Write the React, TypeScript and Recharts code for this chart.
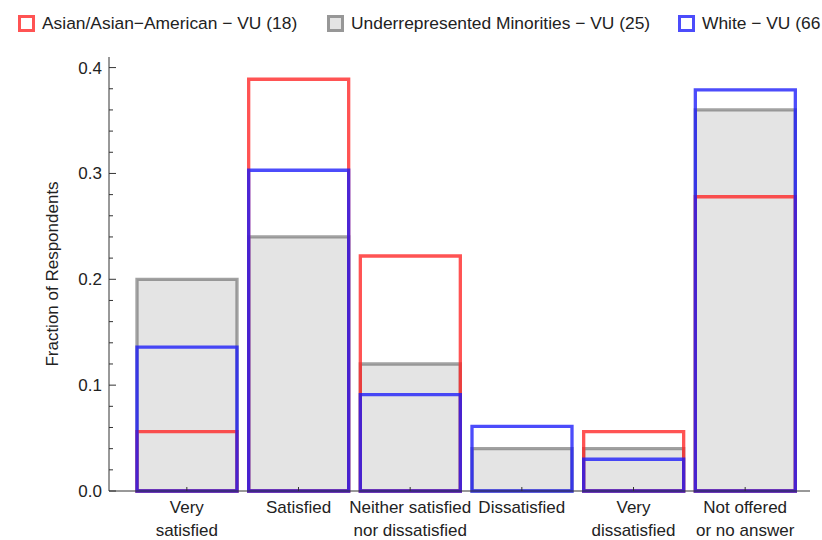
import { BarChart, Bar, XAxis, YAxis } from 'recharts';

const categories = [
  'Very\nsatisfied',
  'Satisfied',
  'Neither satisfied\nnor dissatisfied',
  'Dissatisfied',
  'Very\ndissatisfied',
  'Not offered\nor no answer',
];

// fractions
const asianValues = [0.056, 0.389, 0.222, 0, 0.056, 0.278];
const urmValues = [0.2, 0.24, 0.12, 0.04, 0.04, 0.36];
const whiteValues = [0.136, 0.303, 0.091, 0.061, 0.03, 0.379];

const seriesNames = [
  'Asian/Asian−American − VU (18)',
  'Underrepresented Minorities − VU (25)',
  'White − VU (66',
];

const yTicks = [
  0, 0.02, 0.04, 0.06, 0.08, 0.1, 0.12, 0.14, 0.16, 0.18, 0.2, 0.22, 0.24, 0.26,
  0.28, 0.3, 0.32, 0.34, 0.36, 0.38, 0.4,
];
const yMajorLabels: Record<string, string> = {
  '0': '0.0',
  '0.1': '0.1',
  '0.2': '0.2',
  '0.3': '0.3',
  '0.4': '0.4',
};

const FONT = '"Liberation Sans", Arial, sans-serif';
const RED = 'rgba(255,35,35,0.78)';
const GRAY = 'rgba(100,100,100,0.6)';
const BLUE = 'rgba(25,25,250,0.78)';
const AXIS = '#333';

const data = categories.map((c, i) => ({
  category: c,
  asian: asianValues[i],
  urm: urmValues[i],
  white: whiteValues[i],
}));

function YTick(props: any) {
  const { x, y, payload } = props;
  const label = yMajorLabels[String(payload.value)];
  const len = label ? 7 : 4;
  return (
    <g>
      <line x1={x} x2={x + len} y1={y} y2={y} stroke={AXIS} strokeWidth={1} />
      {label && (
        <text
          x={x - 7}
          y={y + 6}
          textAnchor="end"
          fontSize={17}
          fontFamily={FONT}
          fill="#222"
        >
          {label}
        </text>
      )}
    </g>
  );
}

function XTick(props: any) {
  const { x, y, payload } = props;
  const lines = String(payload.value).split('\n');
  return (
    <g>
      <line x1={x} x2={x} y1={y} y2={y - 4} stroke={AXIS} strokeWidth={1} />
      {lines.map((ln, i) => (
        <text
          key={i}
          x={x}
          y={y + 22 + i * 23}
          textAnchor="middle"
          fontSize={17}
          fontFamily={FONT}
          fill="#222"
        >
          {ln}
        </text>
      ))}
    </g>
  );
}

const legendItems = [
  { name: seriesNames[0], left: 18, stroke: RED, fill: 'none' },
  { name: seriesNames[1], left: 327, stroke: GRAY, fill: '#e4e4e4' },
  { name: seriesNames[2], left: 678, stroke: BLUE, fill: 'none' },
];

export default function App() {
  return (
    <div
      style={{
        position: 'absolute',
        left: 0,
        top: 0,
        width: 822,
        height: 540,
        overflow: 'hidden',
        background: '#fff',
        fontFamily: FONT,
      }}
    >
      {legendItems.map((it) => (
        <div
          key={it.name}
          style={{
            position: 'absolute',
            left: it.left,
            top: 13,
            display: 'flex',
            alignItems: 'center',
            whiteSpace: 'nowrap',
            fontSize: 17.4,
            color: '#222',
          }}
        >
          <span
            style={{
              display: 'inline-block',
              width: 11,
              height: 11,
              border: `3px solid ${it.stroke}`,
              background: it.fill === 'none' ? 'transparent' : it.fill,
              marginRight: 7,
            }}
          />
          {it.name}
        </div>
      ))}
      <BarChart
        width={822}
        height={540}
        data={data}
        margin={{ top: 57, right: 12, bottom: 0, left: 0 }}
        barCategoryGap={6}
      >
        <XAxis
          xAxisId="urm"
          dataKey="category"
          height={49}
          padding={{ left: 22, right: 9 }}
          interval={0}
          tickSize={0}
          tickMargin={0}
          tick={<XTick />}
          axisLine={{ stroke: AXIS }}
        />
        <XAxis xAxisId="asian" dataKey="category" hide height={0} padding={{ left: 22, right: 9 }} />
        <XAxis xAxisId="white" dataKey="category" hide height={0} padding={{ left: 22, right: 9 }} />
        <YAxis
          width={109}
          domain={[0, 0.41]}
          ticks={yTicks}
          interval={0}
          tickSize={0}
          tickMargin={0}
          tick={<YTick />}
          axisLine={{ stroke: AXIS }}
          label={{
            value: 'Fraction of Respondents',
            angle: -90,
            position: 'center',
            dx: -3,
            style: { fontSize: 17, fontFamily: FONT, fill: '#222' },
          }}
        />
        <Bar
          xAxisId="urm"
          dataKey="urm"
          fill="#e4e4e4"
          stroke={GRAY}
          strokeWidth={3.3}
          isAnimationActive={false}
        />
        <Bar
          xAxisId="asian"
          dataKey="asian"
          fill="none"
          stroke={RED}
          strokeWidth={3.3}
          isAnimationActive={false}
        />
        <Bar
          xAxisId="white"
          dataKey="white"
          fill="none"
          stroke={BLUE}
          strokeWidth={3.3}
          isAnimationActive={false}
        />
      </BarChart>
    </div>
  );
}
